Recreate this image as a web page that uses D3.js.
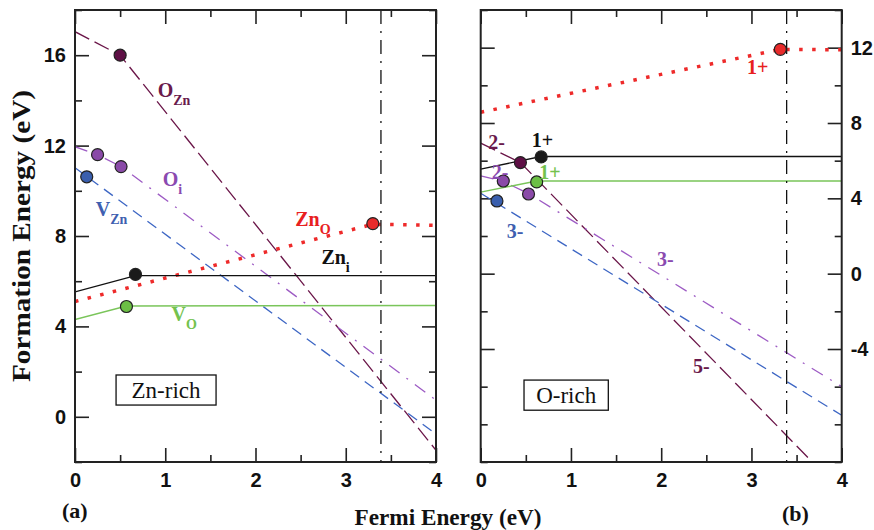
<!DOCTYPE html>
<html>
<head>
<meta charset="utf-8">
<script src="https://cdn.jsdelivr.net/npm/d3@7"></script>
<style>
  html, body { margin: 0; padding: 0; background: #fff; }
  svg { display: block; }
</style>
</head>
<body>
<div id="chart"></div>
<script>
// ---- data ----
const xTicks = [0, 1, 2, 3, 4];
const xMinorTicks = [0.5, 1.5, 2.5, 3.5];
const bandGap = 3.39;

// panel (a): Zn-rich
const znRichTicks = [0, 4, 8, 12, 16];
const znRichMinor = [-2, 2, 6, 10, 14, 18];
const znRichOZn = [[0, 17.04], [0.5, 16.0], [4, -1.48]];
const znRichOi  = [[0, 11.95], [0.25, 11.6], [0.51, 11.07], [4, 0.74]];
const znRichVZn = [[0, 11.02], [4, -0.76]];
const znRichZnO = [[0, 5.1], [3.3, 8.52], [4, 8.47]];
const znRichZni = [[0, 5.53], [0.67, 6.25], [4, 6.25]];
const znRichVO  = [[0, 4.3], [0.57, 4.9], [4, 4.92]];
const znRichDots = [
  ["OZn", 0.5, 16.0], ["Oi", 0.25, 11.6], ["Oi", 0.51, 11.07], ["VZn", 0.13, 10.62],
  ["ZnO", 3.3, 8.55], ["Zni", 0.67, 6.3], ["VO", 0.57, 4.88]
];

// panel (b): O-rich
const oRichTicks = [-4, 0, 4, 8, 12];
const oRichMinor = [-10, -8, -6, -2, 2, 6, 10, 14];
const oRichOZn = [[0, 6.93], [0.44, 5.9], [4, -11.6]];
const oRichOi  = [[0, 5.19], [0.25, 4.9], [0.53, 4.25], [4, -6.0]];
const oRichVZn = [[0, 4.27], [4, -7.52]];
const oRichZnO = [[0, 8.57], [3.32, 11.91], [4, 11.89]];
const oRichZni = [[0, 5.55], [0.67, 6.22], [4, 6.22]];
const oRichVO  = [[0, 4.33], [0.62, 4.92], [4, 4.92]];
const oRichDots = [
  ["OZn", 0.44, 5.9], ["Oi", 0.25, 4.92], ["Oi", 0.53, 4.23], ["VZn", 0.18, 3.86],
  ["ZnO", 3.32, 11.91], ["Zni", 0.67, 6.2], ["VO", 0.62, 4.87]
];

// ---- styles ----
const styles = {
  OZn: { line: "#6a1548", dot: "#5e0f45", dash: "16,6", width: 1.3 },
  Oi:  { line: "#9d5bc4", dot: "#8a4aa8", dash: "13,8.5,2,8.5", width: 1.3 },
  VZn: { line: "#3d66c4", dot: "#3a5fae", dash: "11,7", width: 1.3 },
  ZnO: { line: "#ee2a2a", dot: "#e82a2a", dash: "3.5,9.5", width: 3.5 },
  Zni: { line: "#111111", dot: "#1a1a1a", dash: null, width: 1.3 },
  VO:  { line: "#7ac55a", dot: "#6cbf45", dash: null, width: 1.5 }
};

const W = 874, H = 530;
const tickFont = "'Liberation Sans', Arial, sans-serif";
const serif = "'Liberation Serif', 'Times New Roman', serif";

const svg = d3.select("#chart").append("svg")
  .attr("width", W).attr("height", H)
  .attr("viewBox", `0 0 ${W} ${H}`);

const panels = [
  {
    id: "a", left: 75, top: 10, width: 361, height: 452,
    yDomain: [-2, 18], yTicks: znRichTicks, yMinor: znRichMinor, labelSide: "left",
    series: { OZn: znRichOZn, Oi: znRichOi, VZn: znRichVZn, ZnO: znRichZnO, Zni: znRichZni, VO: znRichVO },
    dots: znRichDots,
    box: { text: "Zn-rich", x0: 0.455, x1: 1.563, y0: 1.85, y1: 0.52 },
    labels: [
      { main: "O", sub: "Zn", ef: 0.916, e: 14.15, color: "#6a1a4c" },
      { main: "O", sub: "i", ef: 0.972, e: 10.22, color: "#8a4ab0" },
      { main: "V", sub: "Zn", ef: 0.23, e: 8.89, color: "#3f5fb0" },
      { main: "Zn", sub: "O", ef: 2.44, e: 8.44, color: "#e82020" },
      { main: "Zn", sub: "i", ef: 2.73, e: 6.74, color: "#111" },
      { main: "V", sub: "O", ef: 1.07, e: 4.22, color: "#74c24e" }
    ]
  },
  {
    id: "b", left: 480.7, top: 10, width: 361, height: 452,
    yDomain: [-10, 14], yTicks: oRichTicks, yMinor: oRichMinor, labelSide: "right",
    series: { OZn: oRichOZn, Oi: oRichOi, VZn: oRichVZn, ZnO: oRichZnO, Zni: oRichZni, VO: oRichVO },
    dots: oRichDots,
    box: { text: "O-rich", x0: 0.48, x1: 1.414, y0: -5.65, y1: -7.25 },
    labels: [
      { main: "1+", ef: 2.95, e: 10.61, color: "#e82020" },
      { main: "2-", ef: 0.084, e: 6.61, color: "#6a1a4c" },
      { main: "1+", ef: 0.565, e: 6.7, color: "#111" },
      { main: "2-", ef: 0.122, e: 5.01, color: "#8a4ab0" },
      { main: "1+", ef: 0.65, e: 5.01, color: "#74c24e" },
      { main: "3-", ef: 0.288, e: 1.9, color: "#3f5fb0" },
      { main: "3-", ef: 1.953, e: 0.43, color: "#8a4ab0" },
      { main: "5-", ef: 2.352, e: -5.28, color: "#6a1a4c" }
    ]
  }
];

panels.forEach(p => {
  const x = d3.scaleLinear().domain([0, 4]).range([0, p.width]);
  const y = d3.scaleLinear().domain(p.yDomain).range([p.height, 0]);
  const g = svg.append("g").attr("transform", `translate(${p.left},${p.top})`);

  g.append("clipPath").attr("id", "clip-" + p.id)
    .append("rect").attr("width", p.width).attr("height", p.height);

  // ticks (inward on all four sides)
  const styleAxis = ax => {
    ax.select(".domain").remove();
    ax.selectAll(".tick line").attr("stroke", "#222").attr("stroke-width", 1.6);
    ax.selectAll("text").attr("font-family", tickFont).attr("font-weight", "bold")
      .attr("font-size", 20).attr("fill", "#111");
  };
  g.append("g").attr("transform", `translate(0,${p.height})`)
    .call(d3.axisBottom(x).tickValues(xTicks).tickSize(-14).tickPadding(11).tickFormat(d3.format("d")))
    .call(styleAxis);
  g.append("g").attr("transform", `translate(0,${p.height})`)
    .call(d3.axisBottom(x).tickValues(xMinorTicks).tickSize(-7).tickFormat(""))
    .call(styleAxis);
  g.append("g")
    .call(d3.axisTop(x).tickValues(xTicks).tickSize(-14).tickFormat(""))
    .call(styleAxis);
  g.append("g")
    .call(d3.axisTop(x).tickValues(xMinorTicks).tickSize(-7).tickFormat(""))
    .call(styleAxis);

  const leftLabels = p.labelSide === "left";
  g.append("g")
    .call(d3.axisLeft(y).tickValues(p.yTicks).tickSize(-14).tickPadding(9)
      .tickFormat(leftLabels ? d3.format("d") : ""))
    .call(styleAxis);
  g.append("g")
    .call(d3.axisLeft(y).tickValues(p.yMinor).tickSize(-7).tickFormat(""))
    .call(styleAxis);
  g.append("g").attr("transform", `translate(${p.width},0)`)
    .call(d3.axisRight(y).tickValues(p.yTicks).tickSize(-14).tickPadding(9)
      .tickFormat(leftLabels ? "" : d3.format("d")))
    .call(styleAxis);
  g.append("g").attr("transform", `translate(${p.width},0)`)
    .call(d3.axisRight(y).tickValues(p.yMinor).tickSize(-7).tickFormat(""))
    .call(styleAxis);
  if (!leftLabels) {
    g.selectAll("text").filter(function() { return this.textContent.startsWith("−"); })
      .text(function() { return "-" + this.textContent.slice(1); });
  }

  const plot = g.append("g").attr("clip-path", `url(#clip-${p.id})`);

  const line = d3.line().x(d => x(d[0])).y(d => y(d[1]));
  Object.entries(p.series).forEach(([key, pts]) => {
    const s = styles[key];
    plot.append("path")
      .attr("d", line(pts))
      .attr("fill", "none")
      .attr("stroke", s.line)
      .attr("stroke-width", s.width)
      .attr("stroke-dasharray", s.dash);
  });

  // band-gap marker
  plot.append("line")
    .attr("x1", x(bandGap)).attr("x2", x(bandGap))
    .attr("y1", 0).attr("y2", p.height)
    .attr("stroke", "#111").attr("stroke-width", 1.3)
    .attr("stroke-dasharray", "14,7,2,7");

  plot.selectAll("circle.dot").data(p.dots).join("circle")
    .attr("class", "dot")
    .attr("cx", d => x(d[1])).attr("cy", d => y(d[2])).attr("r", 6)
    .attr("fill", d => styles[d[0]].dot)
    .attr("stroke", "#222").attr("stroke-width", 1.2);

  // text labels
  p.labels.forEach(l => {
    const t = g.append("text")
      .attr("x", x(l.ef)).attr("y", y(l.e))
      .attr("font-family", serif).attr("font-weight", "bold")
      .attr("font-size", 20).attr("fill", l.color);
    t.append("tspan").text(l.main);
    if (l.sub) t.append("tspan").attr("dy", 8).attr("font-size", 14).text(l.sub);
  });

  // condition box
  const b = p.box;
  g.append("rect")
    .attr("x", x(b.x0)).attr("y", y(b.y0))
    .attr("width", x(b.x1) - x(b.x0)).attr("height", y(b.y1) - y(b.y0))
    .attr("fill", "#fff").attr("stroke", "#111").attr("stroke-width", 1.3);
  g.append("text")
    .attr("x", (x(b.x0) + x(b.x1)) / 2).attr("y", (y(b.y0) + y(b.y1)) / 2 + 8)
    .attr("text-anchor", "middle")
    .attr("font-family", serif).attr("font-size", 23).attr("fill", "#111")
    .text(b.text);

  // frame
  g.append("rect").attr("width", p.width).attr("height", p.height)
    .attr("fill", "none").attr("stroke", "#222").attr("stroke-width", 2);
});

// axis titles and panel tags
svg.append("text")
  .attr("transform", "translate(30,236) rotate(-90)")
  .attr("text-anchor", "middle")
  .attr("font-family", serif).attr("font-weight", "bold").attr("font-size", 26)
  .attr("textLength", 292).attr("lengthAdjust", "spacingAndGlyphs")
  .attr("fill", "#111")
  .text("Formation Energy (eV)");

svg.append("text")
  .attr("x", 448).attr("y", 525)
  .attr("text-anchor", "middle")
  .attr("font-family", serif).attr("font-weight", "bold").attr("font-size", 24)
  .attr("textLength", 187).attr("lengthAdjust", "spacingAndGlyphs")
  .attr("fill", "#111")
  .text("Fermi Energy (eV)");

svg.append("text").attr("x", 62).attr("y", 518)
  .attr("font-family", serif).attr("font-weight", "bold").attr("font-size", 22)
  .attr("fill", "#111").text("(a)");
svg.append("text").attr("x", 782).attr("y", 521)
  .attr("font-family", serif).attr("font-weight", "bold").attr("font-size", 22)
  .attr("fill", "#111").text("(b)");
</script>
</body>
</html>
